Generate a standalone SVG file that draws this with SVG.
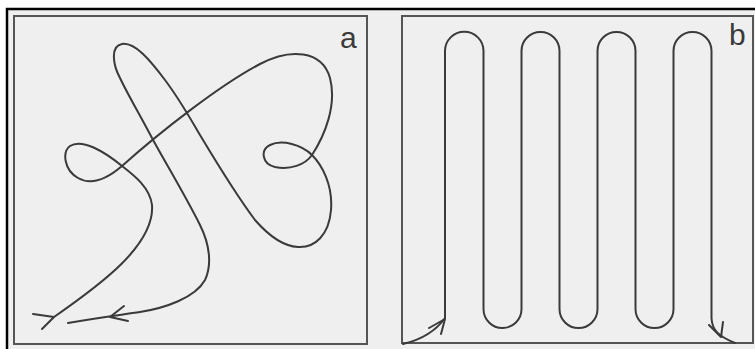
<svg xmlns="http://www.w3.org/2000/svg" width="755" height="349" viewBox="0 0 755 349">
<style>
.frame{fill:none;stroke:#555;stroke-width:2}
.curve{fill:none;stroke:#3a3a3a;stroke-width:2;stroke-linecap:round;stroke-linejoin:round}
.lbl{font-family:"Liberation Sans",Arial,sans-serif;font-size:30px;fill:#3a3a3a}
</style>
<rect x="0" y="0" width="755" height="349" fill="#ffffff"/>
<rect x="7" y="9" width="748" height="340" fill="#efefef"/>
<path d="M7,349 L7,9 L755,9" fill="none" stroke="#000" stroke-width="2.5"/>
<g id="panel-a">
<rect class="frame" x="14" y="16" width="353" height="328"/>
<text class="lbl" x="340" y="48">a</text>
</g>
<g id="panel-b">
<rect class="frame" x="402" y="16" width="351" height="327"/>
<text class="lbl" x="729" y="45">b</text>
</g>
<g id="connectors">
<path class="curve" d="M54,317 C100,285 155,245 152,205 C150,188 135,176 122,166 C105,152 82,138 70,146 C62,152 64,170 78,178 C92,186 108,178 122,166 C160,132 220,85 260,64 C290,48 322,50 330,78 C337,105 325,135 312,155 C305,165 290,170 275,167 C262,164 260,150 270,145 C282,139 302,145 312,155 C322,165 333,185 331,210 C329,235 315,248 298,247 C282,246 268,235 255,220 C240,200 215,160 200,135 C190,118 180,100 165,80 C150,60 135,42 122,44 C110,46 113,65 120,78 C128,95 140,115 152,138 C165,162 185,195 200,225 C210,245 212,265 205,280 C195,298 165,308 140,312 C120,315 95,318 68,323"/>
<polyline class="curve" points="33,314 54,317 42,329"/>
<polyline class="curve" points="124,306 110,317 128,321"/>
<path class="curve" d="M403,344 C420,340 435,332 445,318 L445,51 A19.25,19.25 0 0 1 483.5,51 L483.5,309 A19,19 0 0 0 521.5,309 L521.5,51 A19,19 0 0 1 559.5,51 L559.5,309 A19,19 0 0 0 597.5,309 L597.5,51 A19,19 0 0 1 635.5,51 L635.5,309 A19,19 0 0 0 673.5,309 L673.5,51 A19,19 0 0 1 711.5,51 L711.5,318 C712,330 718,336 735,343"/>
<polyline class="curve" points="429,328 445,319 441,334"/>
<polyline class="curve" points="709,325 721,337 723,322"/>
</g>
</svg>
